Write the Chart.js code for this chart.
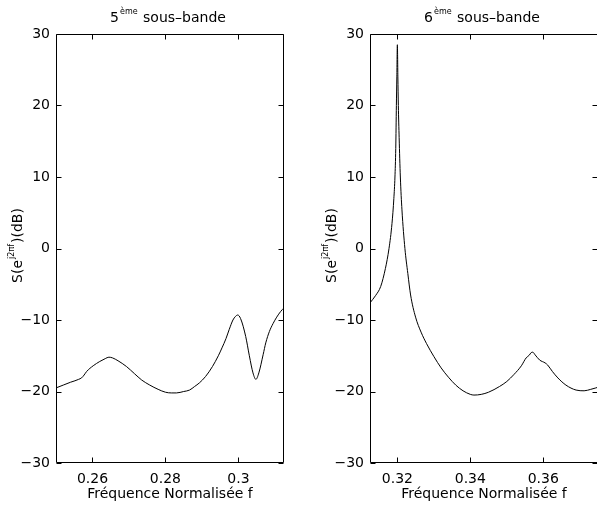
<!DOCTYPE html>
<html>
<head>
<meta charset="utf-8">
<script src="https://cdn.jsdelivr.net/npm/chart.js@4/dist/chart.umd.min.js"></script>
<style>
  html, body { margin: 0; padding: 0; background: #fff; overflow: hidden; }
  #wrap { position: relative; width: 597px; height: 507px; overflow: hidden; }
  .box { position: absolute; top: 0; width: 300px; height: 507px; }
</style>
</head>
<body>
<div id="wrap">
  <div class="box" style="left:0"><canvas id="c5" width="300" height="507"></canvas></div>
  <div class="box" style="left:314px"><canvas id="c6" width="300" height="507"></canvas></div>
</div>
<script>
// 5th sub-band
const freq5 = [0.2500, 0.2520, 0.2540, 0.2552, 0.2562, 0.2570, 0.2577, 0.2584, 0.2602, 0.2620,
               0.2635, 0.2645, 0.2655, 0.2670, 0.2693, 0.2715, 0.2735, 0.2757, 0.2780, 0.2800,
               0.2816, 0.2830, 0.2850, 0.2866, 0.2880, 0.2893, 0.2910, 0.2929, 0.2945, 0.2955,
               0.2966, 0.2975, 0.2985, 0.2992, 0.2998, 0.3006, 0.3020, 0.3030, 0.3040, 0.3048,
               0.3056, 0.3068, 0.3075, 0.3085, 0.3095, 0.3105, 0.3116, 0.3125];
const spec5 = [-19.5, -19.1, -18.7, -18.5, -18.3, -18.1, -17.7, -17.2, -16.4, -15.8,
               -15.4, -15.2, -15.3, -15.7, -16.5, -17.5, -18.4, -19.1, -19.7, -20.1,
               -20.2, -20.2, -20.0, -19.8, -19.3, -18.8, -17.9, -16.5, -15.0, -13.9,
               -12.6, -11.3, -10.0, -9.5, -9.3, -9.8, -12.3, -15.0, -17.4, -18.3,
               -17.4, -14.8, -13.2, -11.6, -10.5, -9.6, -8.8, -8.3];

// 6th sub-band
const freq6 = [0.3125, 0.3140, 0.31544, 0.31672, 0.31771, 0.31853, 0.31904, 0.31934, 0.31956, 0.31973,
               0.31986, 0.3200, 0.32014, 0.32027, 0.32049, 0.32082, 0.32126, 0.32207, 0.32287, 0.32363,
               0.32499, 0.3265, 0.3280, 0.3300, 0.3320, 0.3340, 0.3360, 0.3380, 0.3400, 0.3410,
               0.3430, 0.3450, 0.3480, 0.3500, 0.3520, 0.3540, 0.3553, 0.3562, 0.3566, 0.3571,
               0.3578, 0.3590, 0.3605, 0.3612, 0.3625, 0.3640, 0.3662, 0.3690, 0.3712, 0.3730,
               0.3744, 0.3750];
const spec6 = [-7.6, -6.6, -5.3, -2.8, 0.0, 3.5, 7.0, 10.0, 14.0, 20.0,
               24.0, 28.5, 24.0, 20.0, 15.5, 10.0, 5.4, 0.0, -3.5, -6.5,
               -9.6, -11.7, -13.3, -15.1, -16.7, -18.0, -19.1, -19.9, -20.4, -20.5,
               -20.4, -20.1, -19.3, -18.6, -17.6, -16.4, -15.3, -14.9, -14.6, -14.5,
               -14.9, -15.6, -16.0, -16.3, -17.2, -18.1, -19.1, -19.8, -19.9, -19.7,
               -19.5, -19.4];

const xTicks5 = [0.26, 0.28, 0.30];
const xTicks6 = [0.32, 0.34, 0.36];
const xRange5 = [0.25, 0.3125];
const xRange6 = [0.3125, 0.375];
const yTicks = [-30, -20, -10, 0, 10, 20, 30];
const title5 = ['5', 'ème', ' sous–bande'];
const title6 = ['6', 'ème', ' sous–bande'];
const xLabel = 'Fréquence Normalisée f';
const yLabel = ['S(e', 'j2πf', ')(dB)'];

const FONT = '"DejaVu Sans", "Liberation Sans", Arial, sans-serif';
const SIZE = 14;
const SUP = 8;

// text with a superscript in the middle part, centred on x
function drawRich(ctx, parts, x, y) {
  let w = 0;
  parts.forEach((p, i) => {
    ctx.font = (i % 2 ? SUP : SIZE) + 'px ' + FONT;
    w += ctx.measureText(p).width + (i % 2 ? 2 : 0);
  });
  let cx = x - w / 2;
  parts.forEach((p, i) => {
    const sup = i % 2;
    ctx.font = (sup ? SUP : SIZE) + 'px ' + FONT;
    if (sup) cx += 1;
    ctx.fillText(p, cx, sup ? y - 8 : y);
    cx += ctx.measureText(p).width + (sup ? 1 : 0);
  });
}

const matlabFrame = {
  id: 'matlabFrame',
  afterDraw(chart, args, opts) {
    const { ctx, chartArea: a, scales: { x, y } } = chart;
    const L = Math.round(a.left) + 0.5, R = Math.round(a.right) - 0.5;
    const T = Math.round(a.top) + 0.5, B = Math.round(a.bottom) - 0.5;
    ctx.save();
    ctx.strokeStyle = '#000';
    ctx.lineWidth = 1;
    ctx.beginPath();
    ctx.moveTo(L, T); ctx.lineTo(R, T); ctx.lineTo(R, B); ctx.lineTo(L, B); ctx.closePath();
    opts.xTicks.forEach(v => {
      const px = Math.round(x.getPixelForValue(v)) + 0.5;
      ctx.moveTo(px, B); ctx.lineTo(px, B - 5);
      ctx.moveTo(px, T); ctx.lineTo(px, T + 5);
    });
    yTicks.forEach(v => {
      const py = Math.round(y.getPixelForValue(v)) + 0.5;
      ctx.moveTo(L, py); ctx.lineTo(L + 5, py);
      ctx.moveTo(R, py); ctx.lineTo(R - 5, py);
    });
    ctx.stroke();

    ctx.fillStyle = '#000';
    ctx.textAlign = 'left';
    ctx.textBaseline = 'alphabetic';
    const cx = (a.left + a.right) / 2;
    drawRich(ctx, opts.title, cx - 2, 22);
    ctx.font = SIZE + 'px ' + FONT;
    ctx.textAlign = 'center';
    ctx.fillText(xLabel, cx, 498);
    ctx.textAlign = 'left';
    ctx.translate(22, (a.top + a.bottom) / 2 - 3);
    ctx.rotate(-Math.PI / 2);
    drawRich(ctx, yLabel, 0, 0);
    ctx.restore();
  }
};

function makeChart(id, freq, spec, range, xt, title) {
  const pts = freq.map((f, i) => ({ x: f, y: spec[i] }));
  return new Chart(document.getElementById(id).getContext('2d'), {
    type: 'line',
    data: {
      datasets: [{
        data: pts,
        borderColor: '#000',
        borderWidth: 1,
        pointRadius: 0,
        fill: false,
        cubicInterpolationMode: 'monotone'
      }]
    },
    options: {
      responsive: false,
      animation: false,
      layout: { padding: { top: 34, right: 16, left: 0, bottom: 0 } },
      plugins: {
        legend: { display: false },
        tooltip: { enabled: false },
        matlabFrame: { xTicks: xt, title: title }
      },
      scales: {
        x: {
          type: 'linear',
          min: range[0],
          max: range[1],
          grid: { display: false, drawTicks: false },
          border: { display: false },
          afterBuildTicks: s => { s.ticks = xt.map(v => ({ value: v })); },
          afterFit: s => { s.height = 44; },
          ticks: {
            color: '#000',
            padding: 8,
            maxRotation: 0,
            font: { family: FONT, size: SIZE },
            callback: v => String(+v.toFixed(2))
          }
        },
        y: {
          min: -30,
          max: 30,
          grid: { display: false, drawTicks: false },
          border: { display: false },
          afterBuildTicks: s => { s.ticks = yTicks.map(v => ({ value: v })); },
          afterFit: s => { s.width = 56; },
          ticks: {
            color: '#000',
            padding: 6,
            font: { family: FONT, size: SIZE },
            callback: v => v < 0 ? '\u2212' + Math.abs(v) : String(v)
          }
        }
      }
    },
    plugins: [matlabFrame]
  });
}

makeChart('c5', freq5, spec5, xRange5, xTicks5, title5);
makeChart('c6', freq6, spec6, xRange6, xTicks6, title6);
</script>
</body>
</html>
